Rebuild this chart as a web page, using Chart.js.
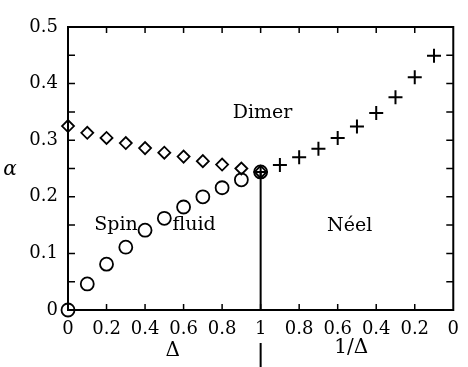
<!DOCTYPE html>
<html>
<head>
<meta charset="utf-8">
<script src="https://cdn.jsdelivr.net/npm/chart.js@4"></script>
<style>
  html, body { margin: 0; padding: 0; background: #fff; }
  #wrap { width: 468px; height: 367px; }
</style>
</head>
<body>
<div id="wrap"><canvas id="phase"></canvas></div>
<script>
// Delta side (left half) and 1/Delta side (right half, read right to left)
const deltaVals = [0, 0.1, 0.2, 0.3, 0.4, 0.5, 0.6, 0.7, 0.8, 0.9, 1];
const dimerAlpha = [0.325, 0.313, 0.304, 0.295, 0.286, 0.278, 0.271, 0.263, 0.257, 0.250, 0.244];
const fluidAlpha = [0, 0.046, 0.081, 0.111, 0.141, 0.162, 0.182, 0.200, 0.216, 0.230, 0.244];
const invDelta = [1, 0.9, 0.8, 0.7, 0.6, 0.5, 0.4, 0.3, 0.2, 0.1];
const neelAlpha = [0.244, 0.256, 0.270, 0.285, 0.304, 0.324, 0.348, 0.376, 0.411, 0.449];
const dividerAlpha = [0.244, 0];

const xTickLabels = ['0', '0.2', '0.4', '0.6', '0.8', '1', '0.8', '0.6', '0.4', '0.2', '0'];
const yTickLabels = ['0', '0.1', '0.2', '0.3', '0.4', '0.5'];
const regionNames = ['Dimer', 'Spin', 'fluid', 'N\u00e9el'];

const serif = '"DejaVu Serif", "Liberation Serif", serif';

// baseline anchor of each region name, in data units
const regionPos = [[1.01, 0.339], [0.249, 0.141], [0.655, 0.141], [1.462, 0.140]];

const frame = {
  id: 'frame',
  afterDraw(chart) {
    const { ctx, chartArea: a, scales: { x, y } } = chart;
    ctx.save();
    ctx.strokeStyle = '#000';
    ctx.lineWidth = 2;
    ctx.strokeRect(a.left, a.top, a.right - a.left, a.bottom - a.top);

    // inward ticks
    ctx.lineWidth = 1.5;
    ctx.beginPath();
    for (let i = 1; i < 10; i++) {
      const py = y.getPixelForValue(i * 0.05);
      ctx.moveTo(a.left, py); ctx.lineTo(a.left + 7, py);
      ctx.moveTo(a.right, py); ctx.lineTo(a.right - 7, py);
      const px = x.getPixelForValue(i * 0.2);
      ctx.moveTo(px, a.bottom); ctx.lineTo(px, a.bottom - 6);
      ctx.moveTo(px, a.top); ctx.lineTo(px, a.top + 6);
    }
    ctx.stroke();

    // stub of the divider below the axis labels
    const x1 = x.getPixelForValue(1);
    ctx.lineWidth = 2;
    ctx.beginPath();
    ctx.moveTo(x1, a.bottom + 33);
    ctx.lineTo(x1, chart.height);
    ctx.stroke();

    ctx.fillStyle = '#000';
    ctx.textAlign = 'center';
    ctx.textBaseline = 'alphabetic';
    ctx.font = '19px ' + serif;
    regionNames.forEach((t, i) => {
      ctx.fillText(t, x.getPixelForValue(regionPos[i][0]), y.getPixelForValue(regionPos[i][1]));
    });

    ctx.textBaseline = 'middle';
    ctx.font = '20px ' + serif;
    ctx.fillText('\u0394', x.getPixelForValue(0.543), a.bottom + 41);
    ctx.fillText('1/\u0394', x.getPixelForValue(1.47), a.bottom + 38);
    ctx.font = 'italic 20px ' + serif;
    ctx.fillText('\u03b1', 10, y.getPixelForValue(0.247));
    ctx.restore();
  }
};

new Chart(document.getElementById('phase'), {
  type: 'scatter',
  data: {
    datasets: [
      {
        data: dividerAlpha.map(v => ({ x: 1, y: v })),
        showLine: true,
        borderColor: '#000',
        borderWidth: 2,
        pointRadius: 0,
        clip: false,
      },
      {
        data: deltaVals.map((d, i) => ({ x: d, y: dimerAlpha[i] })),
        pointStyle: 'rectRot',
        pointRadius: 6,
        borderColor: '#000',
        backgroundColor: 'rgba(0,0,0,0)',
        pointBorderWidth: 1.8,
        clip: false,
      },
      {
        data: deltaVals.map((d, i) => ({ x: d, y: fluidAlpha[i] })),
        pointStyle: 'circle',
        pointRadius: 6.5,
        borderColor: '#000',
        backgroundColor: 'rgba(0,0,0,0)',
        pointBorderWidth: 1.8,
        clip: false,
      },
      {
        data: invDelta.map((d, i) => ({ x: 2 - d, y: neelAlpha[i] })),
        pointStyle: 'cross',
        pointRadius: 7,
        borderColor: '#000',
        pointBorderWidth: 2,
        clip: false,
      },
    ],
  },
  options: {
    animation: false,
    responsive: true,
    maintainAspectRatio: false,
    layout: {
      padding: { top: 27, right: 5, left: 0, bottom: 0 },
    },
    scales: {
      x: {
        type: 'linear',
        min: 0,
        max: 2,
        grid: { display: false, drawTicks: false },
        border: { display: false },
        afterFit: (s) => { s.height = 57; },
        ticks: {
          stepSize: 0.2,
          autoSkip: false,
          maxRotation: 0,
          padding: 9,
          color: '#000',
          font: { family: serif, size: 18 },
          callback: (v) => xTickLabels[Math.round(v / 0.2)],
        },
      },
      y: {
        min: 0,
        max: 0.5,
        grid: { display: false, drawTicks: false },
        border: { display: false },
        afterFit: (s) => { s.width = 68; },
        ticks: {
          stepSize: 0.1,
          padding: 10,
          color: '#000',
          font: { family: serif, size: 18 },
          callback: (v) => yTickLabels[Math.round(v * 10)],
        },
      },
    },
    plugins: {
      legend: { display: false },
      tooltip: { enabled: false },
    },
  },
  plugins: [frame],
});
</script>
</body>
</html>
